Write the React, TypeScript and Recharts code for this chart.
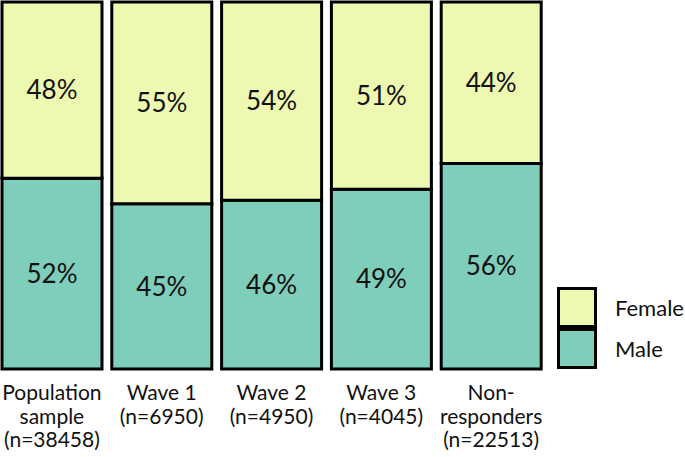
import { Bar, BarChart, LabelList, XAxis, YAxis } from "recharts";

const groups = [
  ["Population", "sample", "(n=38458)"],
  ["Wave 1", "(n=6950)"],
  ["Wave 2", "(n=4950)"],
  ["Wave 3", "(n=4045)"],
  ["Non-", "responders", "(n=22513)"],
];
const male = [52, 45, 46, 49, 56];
const female = [48, 55, 54, 51, 44];

const MALE = "#7fcdbb";
const FEMALE = "#edf8b1";
const FONT = "Lato, 'Open Sans', sans-serif";

const rows = groups.map((g, i) => ({
  key: g.join(" "),
  lines: g,
  Male: male[i],
  Female: female[i],
}));

function GroupTick({ x, y, index }: any) {
  const lines = rows[index]?.lines ?? [];
  return (
    <text x={x} y={y} textAnchor="middle" fill="#111" fontSize={21} fontFamily={FONT}>
      {lines.map((l, i) => (
        <tspan key={l} x={x} dy={i === 0 ? 23 : 23.5}>
          {l}
        </tspan>
      ))}
    </text>
  );
}

const pct = (v: any) => `${v}%`;

export default function App() {
  return (
    <div style={{ position: "absolute", left: 0, top: 0, width: 685, height: 457, background: "#fff" }}>
      <BarChart
        width={685}
        height={457}
        data={rows}
        margin={{ top: 2, right: 139, bottom: 0, left: -3 }}
      >
        <YAxis hide domain={[0, 100]} />
        <XAxis
          dataKey="key"
          axisLine={false}
          tickLine={false}
          height={88}
          interval={0}
          tick={<GroupTick />}
        />
        <Bar dataKey="Male" stackId="s" fill={MALE} stroke="#000" strokeWidth={3} barSize={100} isAnimationActive={false}>
          <LabelList dataKey="Male" position="center" formatter={pct} fill="#111" fontSize={26} fontFamily={FONT} />
        </Bar>
        <Bar dataKey="Female" stackId="s" fill={FEMALE} stroke="#000" strokeWidth={3} barSize={100} isAnimationActive={false}>
          <LabelList dataKey="Female" position="center" formatter={pct} fill="#111" fontSize={26} fontFamily={FONT} />
        </Bar>
      </BarChart>
      <div style={{ position: "absolute", left: 557, top: 287, fontFamily: FONT, fontSize: 22, color: "#111" }}>
        {[
          ["Female", FEMALE],
          ["Male", MALE],
        ].map(([name, color]) => (
          <div key={name} style={{ display: "flex", alignItems: "center", height: 41 }}>
            <div style={{ width: 34, height: 35, background: color, border: "3px solid #000" }} />
            <span style={{ marginLeft: 18 }}>{name}</span>
          </div>
        ))}
      </div>
    </div>
  );
}
